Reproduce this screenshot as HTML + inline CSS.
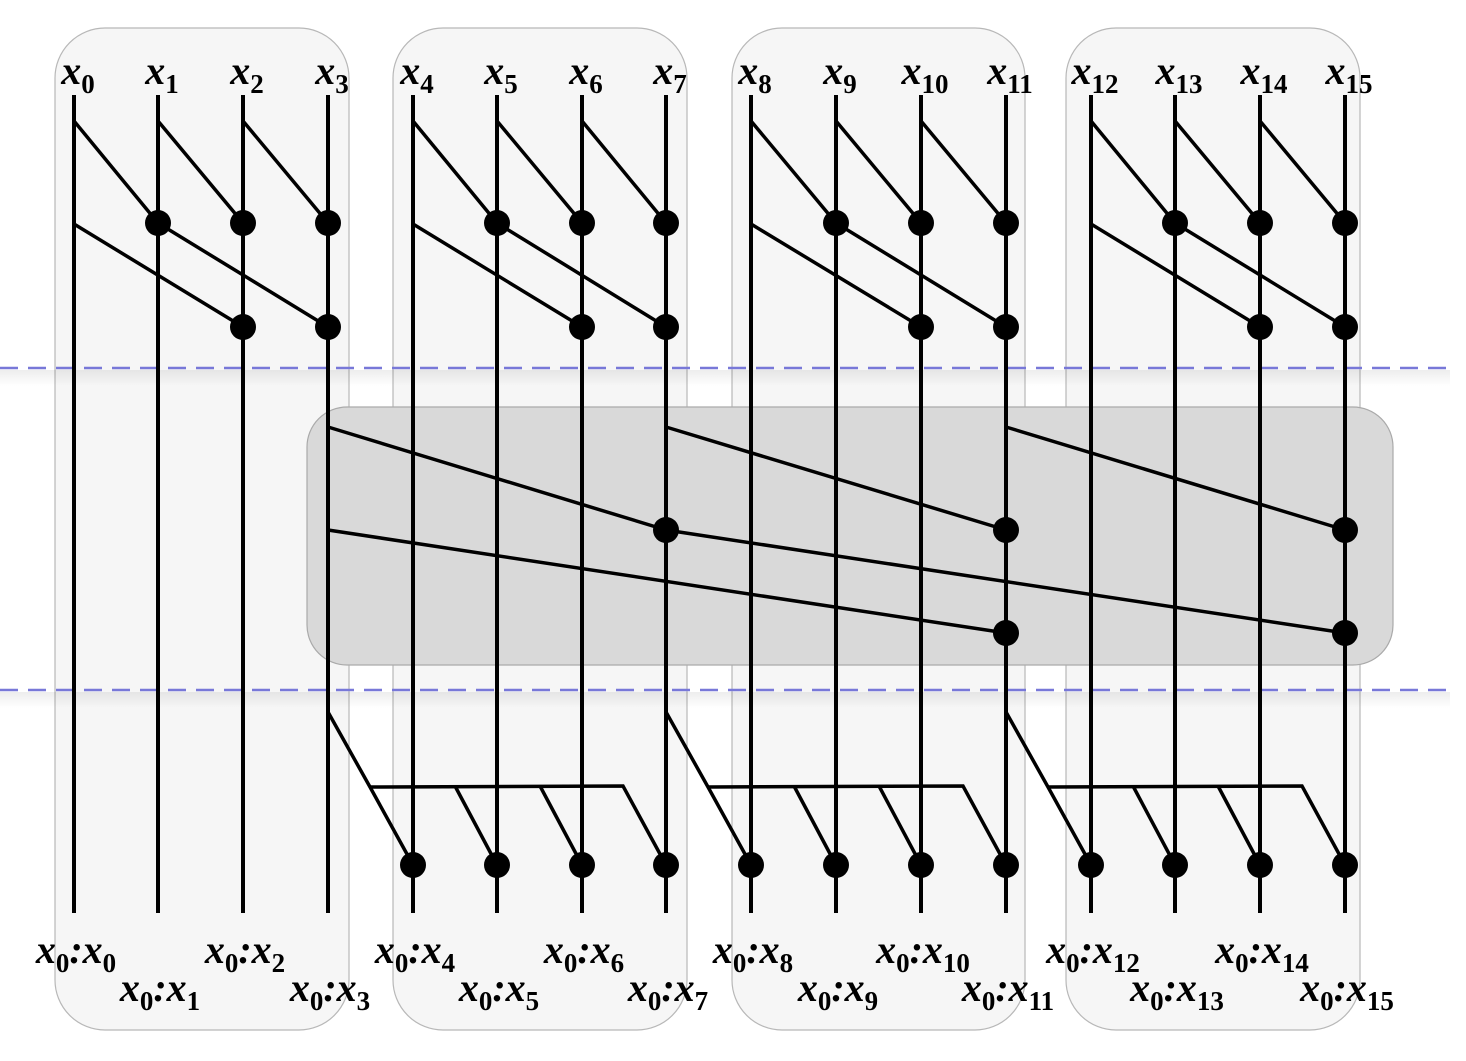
<!DOCTYPE html>
<html><head><meta charset="utf-8"><style>
html,body{margin:0;padding:0;background:#fff;}
svg{display:block;}
.lab{font-family:"Liberation Serif",serif;font-weight:bold;fill:#000;}
.it{font-style:italic;font-weight:bold;}
</style></head><body>
<svg id="chart" width="1466" height="1061" viewBox="0 0 1466 1061">
<defs>
<linearGradient id="sh" x1="0" y1="0" x2="0" y2="1">
<stop offset="0" stop-color="#000" stop-opacity="0.07"/><stop offset="1" stop-color="#000" stop-opacity="0"/>
</linearGradient>
</defs>
<g id="bg"></g>
<g id="wires"></g>
<g id="labels"></g>
</svg>
<script>
const colX = [74,158,243,328,413,497,582,666,751,836,921,1006,1091,1175,1260,1345];
const groups = [[55,349],[393,687],[732,1025],[1066,1360]];
const localEdges = [[0,121,1,223],[1,121,2,223],[2,121,3,223],[0,224,2,327],[1,223,3,327]];
const localDots = [[1,223],[2,223],[3,223],[2,327],[3,327]];
const midEdges = [[3,427,7,530],[7,427,11,530],[11,427,15,530],[3,530,11,633],[7,530,15,633]];
const midDots = [[7,530],[11,530],[15,530],[11,633],[15,633]];
const NS='http://www.w3.org/2000/svg';
function mk(tag,attrs,parent){const e=document.createElementNS(NS,tag);for(const k in attrs)e.setAttribute(k,attrs[k]);parent.appendChild(e);return e;}
const bg=document.getElementById('bg'), w=document.getElementById('wires'), lb=document.getElementById('labels');
groups.forEach((g,i)=>{
  const r=mk('rect',{x:g[0],y:28,width:g[1]-g[0],height:1002,rx:50,fill:'#f6f6f6',stroke:'#b8b8b8','stroke-width':1.2},bg);
  
  
});
[368,690].forEach((y,i)=>{
  const s=mk('rect',{x:0,y:y+2,width:1450,height:16,fill:'url(#sh)'},bg);
  
  
});
const gb=mk('rect',{x:307,y:407,width:1086,height:258,rx:40,fill:'#d9d9d9',stroke:'#aaa','stroke-width':1.2},bg);


[368,690].forEach((y,i)=>{
  const l=mk('line',{x1:0,y1:y,x2:1450,y2:y,stroke:'#7878d8','stroke-width':2.5,'stroke-dasharray':'18 10'},bg);
  
  
});
colX.forEach((x,i)=>{
  const l=mk('line',{x1:x,y1:95,x2:x,y2:913,stroke:'#000','stroke-width':4},w);
  
  
});
function edge(a,y1,b,y2){const l=mk('line',{x1:colX[a],y1:y1,x2:colX[b],y2:y2,stroke:'#000','stroke-width':3.5},w);
  
  }
function dot(c,y){const d=mk('circle',{cx:colX[c],cy:y,r:13,fill:'#000'},w);
  
  }
for(let g=0;g<4;g++){
  localEdges.forEach(e=>edge(e[0]+4*g,e[1],e[2]+4*g,e[3]));
  localDots.forEach(d=>dot(d[0]+4*g,d[1]));
}
midEdges.forEach(e=>edge(e[0],e[1],e[2],e[3]));
midDots.forEach(d=>dot(d[0],d[1]));
for(let g=1;g<4;g++){
  const src=colX[4*g-1], base=4*g;
  const p=mk('polyline',{points:`${src},712 ${src+42},787 ${colX[base]},865`,fill:'none',stroke:'#000','stroke-width':3.5},w);
  
  
  const hx2=colX[base+3]-43;
  const h=mk('polyline',{points:`${src+42},787 ${hx2},786 ${colX[base+3]},865`,fill:'none',stroke:'#000','stroke-width':3.5},w);
  
  
  for(let k=1;k<3;k++){
    const bx=colX[base+k]-42;
    const b=mk('line',{x1:bx,y1:786,x2:colX[base+k],y2:865,stroke:'#000','stroke-width':3.5},w);
    
    
  }
  for(let k=0;k<4;k++) dot(base+k,865);
}
function label(x,y,parts,name){
  const t=mk('text',{x:x,y:y,'text-anchor':'middle',class:'lab'},lb);
  
  
  parts.forEach(p=>{
    const s=mk('tspan',{},t);
    if(p.sub){s.setAttribute('font-size','27');s.setAttribute('font-weight','bold');s.setAttribute('dy','9');}
    else{s.setAttribute('font-size','40');s.setAttribute('class','it');if(p.up)s.setAttribute('dy','-9');}
    s.textContent=p.t;
  });
}
colX.forEach((x,i)=>{
  label(x+4,84,[{t:'x'},{t:String(i),sub:1}],'input-label-x'+i);
  const y=i%2===0?963:1001;
  label(x+2,y,[{t:'x'},{t:'0',sub:1},{t:':x',up:1},{t:String(i),sub:1}],'output-label-x0-x'+i);
});
</script>
</body></html>
